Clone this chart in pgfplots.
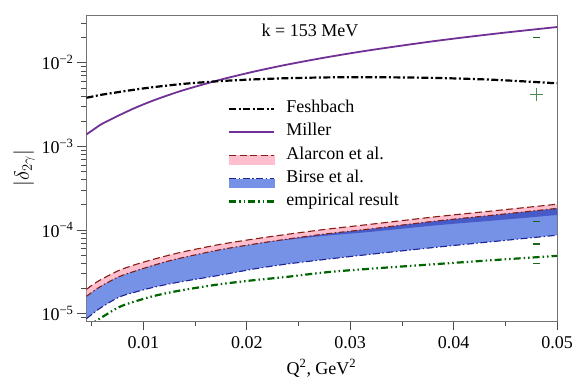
\documentclass[border=0pt]{standalone}
\usepackage{fontspec}
\setmainfont{Liberation Serif}
\usepackage{pgfplots}
\pgfplotsset{compat=1.18}
\usepackage{pgfplotstable}
\usepgfplotslibrary{fillbetween}

\definecolor{millerc}{RGB}{112,48,150}
\definecolor{alarc}{RGB}{130,30,20}
\definecolor{pinkband}{RGB}{255,190,205}
\definecolor{birsec}{RGB}{30,35,150}
\definecolor{blueband}{RGB}{118,146,230}
\definecolor{darkband}{RGB}{70,90,200}
\definecolor{empc}{RGB}{0,100,0}
\definecolor{markc}{RGB}{30,100,30}
\definecolor{plusc}{RGB}{80,140,80}

% Q2, Feshbach, Miller, Alarcon up/low, Birse dark edge, Birse low, empirical
\pgfplotstableread{
x       fe       mi       au       al       bd       bl       em
0.0045  3.81e-3  1.39e-3  1.95e-5  1.61e-5  1.61e-5  8.7e-6   6.8e-6
0.00525 3.98e-3  1.61e-3  2.28e-5  1.88e-5  1.88e-5  1.03e-5  7.9e-6
0.006   4.15e-3  1.855e-3 2.59e-5  2.16e-5  2.16e-5  1.2e-5   9.05e-6
0.00768 4.47e-3  2.36e-3  3.30e-5  2.77e-5  2.77e-5  1.58e-5  1.2e-5
0.0093  4.79e-3  2.92e-3  3.88e-5  3.25e-5  3.25e-5  1.82e-5  1.41e-5
0.0109  5.09e-3  3.51e-3  4.43e-5  3.75e-5  3.75e-5  2.05e-5  1.61e-5
0.0125  5.36e-3  4.13e-3  5.0e-5   4.27e-5  4.27e-5  2.26e-5  1.78e-5
0.01413 5.62e-3  4.80e-3  5.57e-5  4.76e-5  4.76e-5  2.46e-5  1.94e-5
0.01736 6.02e-3  6.22e-3  6.70e-5  5.78e-5  5.78e-5  2.87e-5  2.24e-5
0.0206  6.31e-3  7.78e-3  7.76e-5  6.74e-5  6.74e-5  3.4e-5   2.50e-5
0.0238  6.52e-3  9.44e-3  8.83e-5  7.74e-5  7.6e-5   3.9e-5   2.74e-5
0.0277  6.67e-3  1.16e-2  1.02e-4  8.98e-5  8.55e-5  4.46e-5  3.12e-5
0.032   6.71e-3  1.416e-2 1.17e-4  1.03e-4  9.5e-5   5.12e-5  3.44e-5
0.0381  6.58e-3  1.81e-2  1.43e-4  1.27e-4  1.13e-4  6.17e-5  3.89e-5
0.044   6.24e-3  2.22e-2  1.70e-4  1.51e-4  1.30e-4  7.3e-5   4.37e-5
0.05    5.67e-3  2.67e-2  2.03e-4  1.81e-4  1.51e-4  8.65e-5  4.9e-5
}\data

\begin{document}
\begin{tikzpicture}
\begin{axis}[
  name=ax,
  width=471pt, height=306pt, scale only axis,
  ymode=log,
  xmin=0.00445, xmax=0.05, ymin=8.15e-6, ymax=3.72e-2,
  axis line style={black!55},
  tick align=outside, xtick pos=bottom, ytick pos=left,
  major tick length=9pt, minor tick length=5pt,
  every tick/.style={black!70, line width=0.6pt},
  scaled x ticks=false,
  xtick={0.01,0.02,0.03,0.04,0.05},
  xticklabels={0.01,0.02,0.03,0.04,0.05},
  minor xtick={0.005,0.015,0.025,0.035,0.045},
  ytick={1e-5,1e-4,1e-3,1e-2},
  yticklabels={10\textsuperscript{−5},10\textsuperscript{−4},10\textsuperscript{−3},10\textsuperscript{−2}},
  minor ytick={9e-6,2e-5,3e-5,4e-5,5e-5,6e-5,7e-5,8e-5,9e-5,
    2e-4,3e-4,4e-4,5e-4,6e-4,7e-4,8e-4,9e-4,
    2e-3,3e-3,4e-3,5e-3,6e-3,7e-3,8e-3,9e-3,2e-2,3e-2},
  ticklabel style={font=\fontsize{18}{21}\selectfont},
  xticklabel style={yshift=-3pt},
  xlabel style={font=\fontsize{18}{21}\selectfont, yshift=-4pt},
  ylabel style={font=\fontsize{22}{26}\selectfont},
  xlabel={Q\textsuperscript{2}, GeV\textsuperscript{2}},
  ylabel={$|\delta_{2\gamma}|$},
  legend style={draw=none, fill=none, at={(rel axis cs:0.295,0.735)}, anchor=north west,
    font=\fontsize{18}{21}\selectfont, row sep=2.2pt, column sep=9pt,
    nodes={inner sep=2pt, text height=12.5pt, text depth=4.5pt}},
  legend cell align=left,
  legend image code/.code={\draw[#1] (0pt,0pt) -- (45pt,0pt);},
]
% boundaries of the bands
\addplot[name path=au, draw=none, smooth, forget plot] table[y=au]{\data};
\addplot[name path=al, draw=none, smooth, forget plot] table[y=al]{\data};
\addplot[name path=bd, draw=none, smooth, forget plot] table[y=bd]{\data};
\addplot[name path=bl, draw=none, smooth, forget plot] table[y=bl]{\data};
\addplot[pinkband, forget plot] fill between[of=au and al];
\addplot[blueband, forget plot] fill between[of=al and bl];
\addplot[darkband, forget plot] fill between[of=al and bd];

\addplot[alarc, line width=1.1pt, dash pattern=on 7pt off 3.5pt, smooth, forget plot] table[y=au]{\data};
\addplot[alarc, line width=1.1pt, dash pattern=on 6pt off 2.5pt on 1.5pt off 2.5pt, smooth, forget plot] table[y=al]{\data};
\addplot[birsec, line width=1.1pt, dash pattern=on 7pt off 2.5pt on 1.5pt off 2.5pt, smooth, forget plot] table[y=bl]{\data};
\addplot[empc, line width=2.2pt, dash pattern=on 7pt off 3pt on 1.5pt off 3pt on 1.5pt off 3pt, smooth, forget plot] table[y=em]{\data};
\addplot[millerc, line width=1.8pt, smooth, forget plot] table[y=mi]{\data};
\addplot[black, line width=2.2pt, dash pattern=on 7pt off 2.5pt on 2pt off 2.5pt, smooth, forget plot] table[y=fe]{\data};

\addplot[only marks, markc, mark=-, mark size=3.5pt, mark options={line width=1.5pt}, forget plot]
  coordinates {(0.048,2.0e-2) (0.048,1.26e-4) (0.048,6.8e-5) (0.048,3.99e-5)};
\addplot[only marks, plusc, mark=+, mark size=6.5pt, mark options={line width=0.8pt}, forget plot]
  coordinates {(0.048,4.22e-3)};

\node[font=\fontsize{18}{21}\selectfont] at (rel axis cs:0.4756,0.951) {k = 153 MeV};

\addlegendimage{black, line width=2.2pt, dash pattern=on 7pt off 2.5pt on 2pt off 2.5pt}
\addlegendentry{Feshbach}
\addlegendimage{millerc, line width=1.8pt}
\addlegendentry{Miller}
\addlegendimage{legend image code/.code={
  \fill[pinkband] (0pt,-9pt) rectangle (45pt,-0.5pt);
  \draw[alarc, line width=1.1pt, dash pattern=on 7pt off 3.5pt] (0pt,0pt) -- (45pt,0pt);}}
\addlegendentry{Alarcon et al.}
\addlegendimage{legend image code/.code={
  \fill[blueband] (0pt,-9pt) rectangle (45pt,-0.5pt);
  \draw[birsec, line width=1.1pt, dash pattern=on 7pt off 2.5pt on 1.5pt off 2.5pt] (0pt,0pt) -- (45pt,0pt);}}
\addlegendentry{Birse et al.}
\addlegendimage{empc, line width=2.2pt, dash pattern=on 7pt off 3pt on 1.5pt off 3pt on 1.5pt off 3pt}
\addlegendentry{empirical result}
\end{axis}
\path ([shift={(-86pt,-67pt)}]ax.south west) rectangle ([shift={(24pt,15pt)}]ax.north east);
\end{tikzpicture}
\end{document}
